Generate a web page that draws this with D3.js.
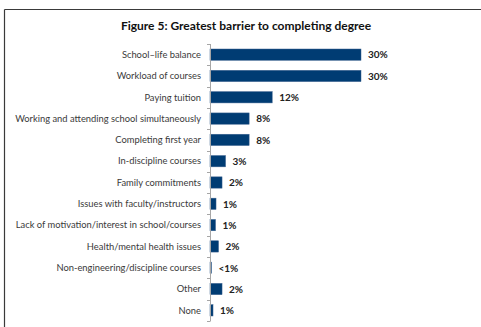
<!DOCTYPE html>
<html>
<head>
<meta charset="utf-8">
<script src="https://cdn.jsdelivr.net/npm/d3@7"></script>
<style>
  html, body { margin: 0; padding: 0; background: #fff; }
  svg { display: block; }
</style>
</head>
<body>
<svg id="chart" width="481" height="327"></svg>
<script>
// Survey responses: greatest barrier to completing a degree (% of respondents)
const categories = [
  "School\u2013life balance",
  "Workload of courses",
  "Paying tuition",
  "Working and attending school simultaneously",
  "Completing first year",
  "In-discipline courses",
  "Family commitments",
  "Issues with faculty/instructors",
  "Lack of motivation/interest in school/courses",
  "Health/mental health issues",
  "Non-engineering/discipline courses",
  "Other",
  "None"
];
const percents = [30.1, 30.1, 12.4, 7.8, 7.8, 3.1, 2.4, 1.2, 1.1, 1.7, 0.3, 2.4, 0.6];
const titleText = "Figure 5: Greatest barrier to completing degree";

const rows = categories.map((c, i) => ({ category: c, value: percents[i] }));
const fmtPct = v => v < 0.5 ? "<1%" : Math.round(v) + "%";

const svg = d3.select("#chart");
const font = "Lato, 'Open Sans', sans-serif";

// frame lines (top and left)
svg.append("line").attr("x1", 4.5).attr("x2", 481).attr("y1", 9.5).attr("y2", 9.5)
  .attr("stroke", "#3a3a3a").attr("stroke-width", 1.2);
svg.append("line").attr("x1", 4.5).attr("x2", 4.5).attr("y1", 9.5).attr("y2", 327)
  .attr("stroke", "#3a3a3a").attr("stroke-width", 1.2);

// title
svg.append("text")
  .attr("x", 246).attr("y", 30)
  .attr("text-anchor", "middle")
  .attr("font-family", font)
  .attr("font-weight", "bold")
  .attr("font-size", 12)
  .attr("fill", "#111")
  .text(titleText);

const x0 = 210;
const x = d3.scaleLinear().domain([0, 30]).range([x0, 360.5]);
const y = d3.scaleBand().domain(categories).range([44, 321]).paddingInner(0.47).paddingOuter(0.235);

// bars
svg.append("g").selectAll("rect").data(rows).join("rect")
  .attr("x", x(0))
  .attr("y", d => y(d.category))
  .attr("width", d => x(d.value) - x(0))
  .attr("height", y.bandwidth())
  .attr("fill", "#003c73")
  .attr("stroke", "#3d6390")
  .attr("stroke-width", 0.5);

// category axis with ticks on band boundaries
const axisG = svg.append("g");
const bounds = d3.range(categories.length + 1).map(i => 44 + i * (277 / categories.length));
axisG.append("line")
  .attr("x1", x0 + 0.5).attr("x2", x0 + 0.5)
  .attr("y1", 44).attr("y2", 321)
  .attr("stroke", "#a6a6a6").attr("stroke-width", 1);
axisG.selectAll("line.tick").data(bounds).join("line")
  .attr("class", "tick")
  .attr("x1", x0 - 3).attr("x2", x0 + 0.5)
  .attr("y1", d => Math.round(d) + 0.5).attr("y2", d => Math.round(d) + 0.5)
  .attr("stroke", "#a6a6a6").attr("stroke-width", 1);

// category labels
svg.append("g").selectAll("text").data(rows).join("text")
  .attr("x", 201)
  .attr("y", d => y(d.category) + y.bandwidth() / 2)
  .attr("dy", "0.35em")
  .attr("text-anchor", "end")
  .attr("font-family", font)
  .attr("font-size", 9.35)
  .attr("fill", "#3a3a3a")
  .text(d => d.category);

// value labels
svg.append("g").selectAll("text").data(rows).join("text")
  .attr("x", d => x(d.value) + 7)
  .attr("y", d => y(d.category) + y.bandwidth() / 2)
  .attr("dy", "0.38em")
  .attr("font-family", font)
  .attr("font-weight", "bold")
  .attr("font-size", 10)
  .attr("fill", "#222")
  .text(d => fmtPct(d.value));
</script>
</body>
</html>
